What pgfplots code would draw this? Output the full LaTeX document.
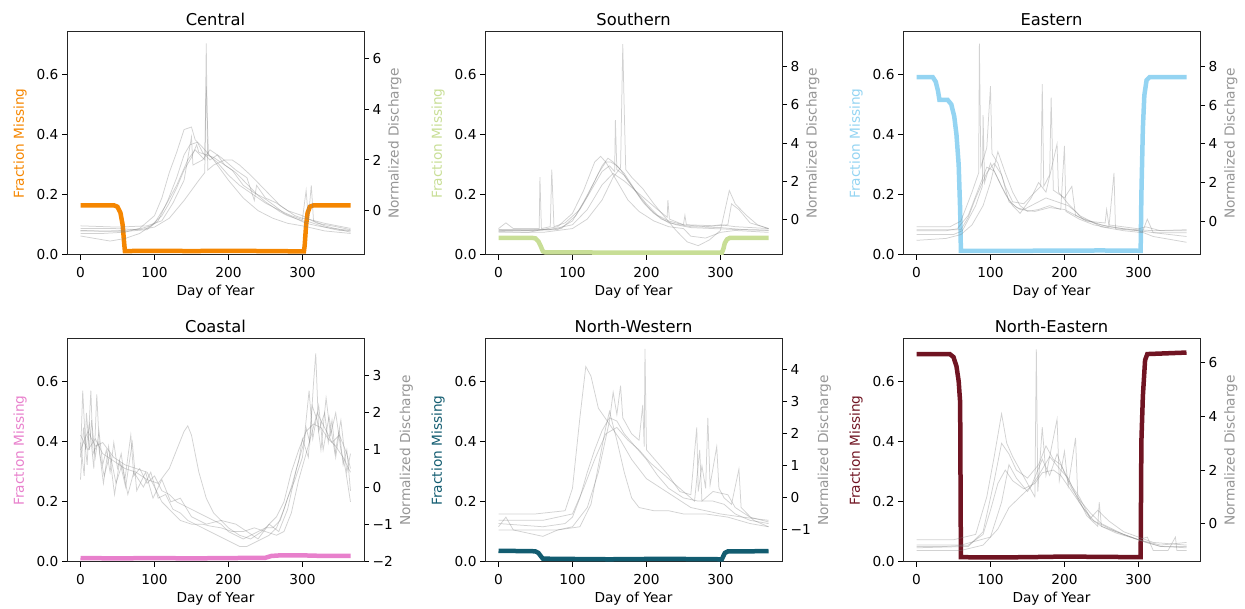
\documentclass[border=0pt]{standalone}
\usepackage{fontspec}
\setmainfont{DejaVu Sans}
\usepackage{pgfplots}
\pgfplotsset{compat=1.18}

\definecolor{cCen}{RGB}{245,134,0}
\definecolor{cSou}{RGB}{200,222,150}
\definecolor{cEas}{RGB}{148,212,242}
\definecolor{cCoa}{RGB}{232,128,204}
\definecolor{cNW}{RGB}{18,92,112}
\definecolor{cNE}{RGB}{112,20,34}
\definecolor{cDis}{RGB}{150,150,150}
\definecolor{gl}{RGB}{125,125,125}

\pgfplotsset{
  base/.style={width=297pt, height=223pt, scale only axis,
    xmin=-18.25, xmax=383.25,
    tick align=outside, major tick length=5pt,
    every tick/.style={line width=1pt, black},
    axis line style={line width=1pt, black!85},
    tick label style={font=\fontsize{13.7}{16}\selectfont},
    label style={font=\fontsize{13.7}{16}\selectfont},
    title style={font=\fontsize{16.3}{19}\selectfont, yshift=-3pt}},
  frac/.style={base, ymin=0, ymax=0.74,
    xtick={0,100,200,300}, xticklabels={0,100,200,300},
    ytick={0,0.2,0.4,0.6}, yticklabels={0.0,0.2,0.4,0.6},
    xtick pos=lower, ytick pos=left,
    xticklabel shift=4pt, ylabel shift=3pt,
    xlabel={Day of Year}, ylabel={Fraction Missing}},
  dis/.style={base, axis y line*=right, axis x line=none,
    ylabel={Normalized Discharge}, ylabel style={color=cDis}},
  miss/.style={line width=4.5pt, no marks},
  q/.style={gl, opacity=0.35, line width=0.75pt, no marks},
}

\begin{document}
\begin{tikzpicture}
\path[use as bounding box] (0,0) rectangle (1245pt,609pt);

% ---------------- Central
\begin{axis}[frac, at={(67pt,354pt)}, anchor=south west, title={Central}, ylabel style={color=cCen}]
\addplot[miss, cCen] coordinates {(0,0.165)(45,0.165)(50,0.160)(54,0.14)(57,0.10)(59,0.04)(60,0.013)(100,0.014)(150,0.013)(200,0.014)(250,0.013)(302,0.012)(303,0.03)(305,0.10)(307,0.14)(310,0.160)(315,0.165)(365,0.165)};
\end{axis}
\begin{axis}[dis, at={(67pt,354pt)}, anchor=south west, ymin=-1.75, ymax=7.05, ytick={0,2,4,6}, yticklabels={0,2,4,6}]
\addplot[q] coordinates {(0,-0.78)(20,-0.8)(40,-0.8)(60,-0.78)(80,-0.72)(95,-0.6)(110,-0.2)(120,0.3)(130,0.9)(140,1.6)(150,2.1)(157,2.6)(160,2.3)(170,2.2)(180,2.1)(190,1.9)(200,1.7)(210,1.5)(220,1.2)(230,0.9)(240,0.6)(250,0.35)(260,0.15)(270,-0.05)(280,-0.2)(290,-0.3)(300,-0.4)(310,-0.45)(320,-0.55)(330,-0.65)(340,-0.72)(350,-0.78)(365,-0.8)};
\addplot[q] coordinates {(0,-0.9)(30,-0.9)(60,-0.85)(80,-0.7)(100,-0.2)(110,0.5)(120,1.5)(130,2.3)(140,3.2)(150,3.3)(155,2.8)(165,2.5)(180,2.0)(200,1.2)(220,0.5)(240,0.0)(260,-0.3)(280,-0.5)(300,-0.6)(330,-0.8)(365,-0.9)};
\addplot[q] coordinates {(0,-0.7)(40,-0.7)(80,-0.75)(100,-0.65)(120,-0.3)(140,0.4)(160,1.2)(168,1.5)(170,6.6)(172,1.6)(180,1.8)(195,2.0)(205,2.0)(215,1.8)(230,1.4)(250,0.8)(270,0.2)(290,-0.2)(300,-0.3)(310,-0.35)(330,-0.5)(365,-0.7)};
\addplot[q] coordinates {(0,-1.0)(20,-1.1)(40,-1.2)(60,-1.1)(80,-0.9)(100,-0.5)(115,0.2)(130,1.0)(145,2.0)(155,2.4)(168,2.0)(170,4.9)(173,2.2)(185,1.9)(200,1.4)(215,1.0)(230,0.7)(250,0.3)(270,0.0)(285,-0.2)(300,-0.35)(305,0.8)(308,-0.3)(312,1.0)(315,-0.4)(330,-0.6)(365,-0.85)};
\addplot[q] coordinates {(0,-0.6)(50,-0.65)(90,-0.6)(110,-0.4)(125,0.3)(140,1.2)(150,2.9)(152,1.8)(165,2.0)(175,2.4)(190,2.1)(210,1.6)(225,1.3)(235,0.4)(238,1.0)(250,0.5)(265,0.3)(280,0.0)(300,-0.2)(320,-0.5)(340,-0.6)(365,-0.75)};
\addplot[q] coordinates {(0,-0.8)(60,-0.82)(90,-0.75)(105,-0.4)(118,0.4)(130,1.3)(140,2.2)(148,2.6)(158,2.7)(165,2.3)(175,2.0)(185,2.2)(195,1.8)(205,1.6)(220,1.0)(235,0.7)(248,0.5)(262,0.2)(275,-0.1)(290,-0.3)(305,-0.5)(320,-0.6)(340,-0.7)(365,-0.78)};
\end{axis}

% ---------------- Southern
\begin{axis}[frac, at={(485pt,354pt)}, anchor=south west, title={Southern}, ylabel style={color=cSou}]
\addplot[miss, cSou] coordinates {(0,0.057)(45,0.057)(50,0.055)(54,0.045)(57,0.03)(60,0.012)(63,0.009)(150,0.008)(250,0.008)(302,0.008)(304,0.02)(306,0.04)(309,0.052)(313,0.057)(365,0.057)};
\end{axis}
\begin{axis}[dis, at={(485pt,354pt)}, anchor=south west, ymin=-1.89, ymax=9.84, ytick={0,2,4,6,8}, yticklabels={0,2,4,6,8}]
\addplot[q] coordinates {(0,-0.6)(50,-0.6)(80,-0.55)(100,-0.1)(115,0.9)(130,2.0)(140,2.8)(148,3.2)(155,3.0)(165,2.6)(175,2.0)(190,1.2)(205,0.5)(220,0.0)(240,-0.3)(260,-0.45)(290,-0.5)(320,-0.55)(365,-0.6)};
\addplot[q] coordinates {(0,-0.5)(10,-0.2)(20,-0.5)(55,-0.5)(56,2.2)(58,-0.5)(70,-0.4)(72,2.6)(75,-0.4)(90,-0.2)(110,0.5)(125,1.5)(140,2.5)(150,2.8)(157,2.5)(158,5.2)(160,2.6)(170,2.3)(185,1.5)(200,0.8)(215,0.2)(230,-0.1)(250,-0.3)(280,-0.4)(310,-0.3)(315,0.8)(325,0.5)(340,-0.2)(365,-0.5)};
\addplot[q] coordinates {(0,-0.7)(60,-0.7)(100,-0.5)(120,0.0)(140,1.0)(155,2.2)(165,2.7)(168,9.2)(170,5.7)(172,2.6)(180,2.2)(195,1.6)(210,0.8)(225,0.1)(240,-0.6)(255,-1.2)(270,-1.4)(285,-1.1)(300,-0.6)(312,1.5)(320,0.8)(335,0.2)(350,-0.3)(365,-0.5)};
\addplot[q] coordinates {(0,-0.65)(40,-0.7)(80,-0.4)(100,0.3)(115,1.5)(130,3.0)(138,3.3)(145,3.0)(160,2.0)(175,1.0)(190,0.4)(210,-0.1)(230,-0.4)(250,-0.5)(260,-0.9)(280,-1.0)(300,-0.7)(320,-0.6)(365,-0.7)};
\addplot[q] coordinates {(0,-0.55)(70,-0.55)(100,-0.3)(120,0.5)(140,1.8)(155,2.4)(170,2.0)(185,1.5)(200,1.0)(215,0.5)(228,0.1)(229,1.0)(231,0.0)(250,-0.3)(252,0.2)(254,-0.3)(290,-0.35)(300,-0.3)(320,-0.4)(365,-0.5)};
\addplot[q] coordinates {(0,-0.58)(40,-0.6)(85,-0.5)(105,0.2)(120,1.2)(135,2.4)(145,3.0)(152,3.0)(160,2.8)(170,2.4)(180,1.8)(195,0.9)(210,0.3)(230,-0.2)(260,-0.4)(300,-0.45)(330,-0.55)(365,-0.58)};
\end{axis}

% ---------------- Eastern
\begin{axis}[frac, at={(903pt,354pt)}, anchor=south west, title={Eastern}, ylabel style={color=cEas}]
\addplot[miss, cEas] coordinates {(0,0.59)(22,0.59)(26,0.575)(29,0.545)(31,0.515)(42,0.515)(47,0.50)(51,0.46)(54,0.40)(57,0.30)(59,0.15)(60,0.014)(150,0.014)(250,0.015)(303,0.014)(304,0.2)(306,0.42)(308,0.53)(311,0.58)(315,0.59)(365,0.59)};
\end{axis}
\begin{axis}[dis, at={(903pt,354pt)}, anchor=south west, ymin=-1.76, ymax=9.81, ytick={0,2,4,6,8}, yticklabels={0,2,4,6,8}]
\addplot[q] coordinates {(0,-0.5)(40,-0.5)(55,-0.4)(70,0.3)(85,1.8)(95,2.8)(105,2.6)(115,1.8)(125,1.1)(135,0.7)(145,0.6)(160,0.9)(175,1.2)(190,1.0)(205,0.8)(215,0.5)(225,0.1)(240,-0.1)(260,-0.3)(280,-0.4)(300,-0.5)(320,-0.6)(365,-0.6)};
\addplot[q] coordinates {(0,-0.3)(45,-0.3)(60,0.0)(75,1.5)(84,2.5)(85,9.2)(87,2.8)(95,3.8)(100,7.0)(102,3.5)(110,3.0)(120,1.8)(130,1.0)(145,0.9)(160,1.5)(168,1.8)(170,7.1)(172,1.8)(180,2.4)(182,6.4)(185,1.6)(200,1.2)(210,1.8)(215,0.3)(230,0.0)(255,-0.1)(257,0.6)(260,-0.2)(280,-0.3)(300,-0.4)(310,-0.3)(330,-0.5)(365,-0.5)};
\addplot[q] coordinates {(0,-1.0)(40,-0.9)(60,-0.7)(75,-0.2)(90,0.8)(100,2.0)(110,3.6)(120,2.5)(130,1.5)(140,0.8)(150,0.5)(165,0.6)(180,0.8)(195,0.6)(200,3.9)(202,0.5)(220,0.1)(240,-0.2)(260,-0.35)(267,2.5)(269,-0.4)(300,-0.5)(320,-0.8)(365,-1.1)};
\addplot[q] coordinates {(0,-0.7)(50,-0.7)(62,-0.5)(80,0.8)(89,1.8)(90,5.5)(92,2.0)(100,3.0)(110,2.2)(120,1.4)(130,0.8)(140,0.4)(155,1.2)(165,2.0)(175,1.5)(190,4.0)(192,1.5)(205,0.9)(220,0.3)(235,0.0)(250,-0.3)(280,-0.5)(305,-0.6)(312,0.1)(320,-0.6)(365,-0.8)};
\addplot[q] coordinates {(0,-0.45)(60,-0.45)(70,0.2)(80,1.2)(95,2.5)(105,3.0)(115,2.4)(125,1.0)(140,0.6)(160,0.5)(180,0.7)(200,0.6)(220,0.2)(250,-0.2)(280,-0.4)(320,-0.5)(365,-0.45)};
\end{axis}

% ---------------- Coastal
\begin{axis}[frac, at={(67pt,47pt)}, anchor=south west, title={Coastal}, ylabel style={color=cCoa}]
\addplot[miss, cCoa] coordinates {(0,0.013)(50,0.012)(100,0.013)(150,0.012)(200,0.013)(250,0.014)(258,0.02)(270,0.022)(300,0.022)(330,0.020)(365,0.020)};
\end{axis}
\begin{axis}[dis, at={(67pt,47pt)}, anchor=south west, ymin=-2.02, ymax=3.99, ytick={-2,-1,0,1,2,3}, yticklabels={−2,−1,0,1,2,3}]
\addplot[q] coordinates {(0,1.2)(5,0.3)(8,2.0)(12,1.0)(15,1.8)(20,0.8)(25,1.5)(30,0.6)(35,1.0)(40,0.4)(45,1.2)(50,0.5)(55,0.9)(60,0.2)(68,1.4)(72,0.3)(80,0.5)(90,0.1)(100,0.3)(110,-0.1)(120,-0.2)(130,-0.4)(140,-0.5)(150,-0.6)(160,-0.7)(170,-0.8)(180,-0.9)(190,-1.0)(200,-1.2)(210,-1.3)(220,-1.4)(230,-1.3)(240,-1.2)(250,-1.1)(260,-1.1)(270,-0.9)(280,-0.3)(290,0.2)(300,0.8)(305,1.6)(310,1.2)(315,2.8)(318,3.6)(322,1.5)(330,2.0)(335,1.2)(340,1.8)(345,0.8)(350,1.5)(355,0.6)(360,1.0)(365,-0.1)};
\addplot[q] coordinates {(0,0.8)(3,2.6)(7,1.0)(12,1.7)(18,0.5)(22,2.5)(26,0.9)(32,0.3)(40,0.9)(48,0.1)(56,0.6)(64,-0.2)(72,0.4)(85,0.0)(95,0.4)(105,-0.3)(115,-0.2)(125,-0.6)(135,-0.7)(145,-0.9)(155,-1.0)(165,-1.1)(175,-1.2)(185,-1.3)(195,-1.4)(205,-1.5)(215,-1.6)(225,-1.6)(235,-1.5)(245,-1.4)(255,-1.3)(265,-1.1)(275,-0.6)(285,0.0)(295,0.7)(300,1.3)(308,0.8)(313,2.2)(320,1.8)(325,1.0)(332,2.4)(338,1.4)(345,2.0)(352,1.0)(358,0.5)(365,-0.4)};
\addplot[q] coordinates {(0,1.4)(10,1.0)(20,1.3)(30,0.9)(45,0.7)(60,0.5)(75,0.4)(90,0.2)(105,0.1)(120,0.5)(130,1.0)(140,1.5)(145,1.65)(150,1.4)(160,0.4)(170,-0.3)(180,-0.7)(190,-0.9)(200,-1.1)(215,-1.3)(230,-1.4)(245,-1.2)(255,-1.0)(265,-0.8)(275,-0.4)(285,0.4)(295,1.0)(305,1.5)(315,1.7)(325,1.6)(335,1.3)(345,1.1)(355,0.8)(365,0.4)};
\addplot[q] coordinates {(0,1.0)(10,1.5)(20,1.1)(30,1.2)(45,0.8)(60,0.6)(75,0.5)(90,0.4)(100,0.0)(110,-0.4)(120,-0.6)(135,-0.9)(150,-1.0)(165,-1.0)(175,-1.05)(190,-1.1)(205,-1.2)(220,-1.2)(235,-1.1)(250,-1.2)(265,-1.3)(275,-1.2)(285,-0.7)(295,0.2)(305,0.9)(312,1.4)(320,2.0)(330,1.6)(340,1.2)(350,1.4)(360,0.9)(365,0.5)};
\addplot[q] coordinates {(0,0.2)(4,1.6)(9,0.6)(14,2.6)(17,0.9)(24,1.2)(31,0.1)(38,1.1)(46,-0.2)(53,0.7)(61,0.0)(70,1.2)(76,-0.1)(88,0.4)(98,-0.3)(110,0.2)(122,-0.4)(135,-0.3)(150,-0.8)(170,-1.0)(190,-0.9)(210,-1.0)(225,-1.2)(240,-1.4)(255,-1.0)(268,-1.2)(280,-0.6)(292,0.5)(302,1.2)(309,2.6)(314,1.3)(322,2.2)(328,1.0)(336,1.9)(344,0.9)(352,1.8)(360,0.4)(365,0.9)};
\end{axis}

% ---------------- North-Western
\begin{axis}[frac, at={(485pt,47pt)}, anchor=south west, title={North-Western}, ylabel style={color=cNW}]
\addplot[miss, cNW] coordinates {(0,0.037)(45,0.036)(50,0.035)(54,0.03)(57,0.02)(60,0.011)(100,0.010)(150,0.009)(200,0.010)(250,0.010)(302,0.009)(304,0.02)(306,0.03)(310,0.035)(365,0.036)};
\end{axis}
\begin{axis}[dis, at={(485pt,47pt)}, anchor=south west, ymin=-2.0, ymax=4.96, ytick={-1,0,1,2,3,4}, yticklabels={−1,0,1,2,3,4}]
\addplot[q] coordinates {(0,-0.8)(30,-0.85)(60,-0.9)(90,-0.8)(100,-0.6)(110,0.0)(120,0.8)(130,1.5)(140,2.1)(150,2.5)(160,2.4)(170,2.0)(185,1.6)(200,1.2)(215,0.7)(230,0.3)(250,0.0)(270,-0.1)(290,-0.1)(305,-0.2)(320,-0.5)(340,-0.7)(365,-0.8)};
\addplot[q] coordinates {(0,-0.5)(50,-0.5)(90,-0.4)(100,0.3)(110,2.5)(118,4.1)(125,3.8)(135,2.8)(150,2.3)(165,1.8)(180,1.2)(200,0.6)(220,0.3)(240,0.0)(260,-0.3)(280,-0.4)(300,-0.5)(330,-0.6)(365,-0.7)};
\addplot[q] coordinates {(0,-0.9)(10,-0.6)(20,-1.0)(40,-1.1)(60,-1.2)(80,-1.0)(100,-0.9)(120,-0.3)(135,0.8)(150,2.4)(155,3.3)(160,2.6)(165,3.5)(168,2.5)(180,2.0)(190,1.8)(195,2.9)(197,1.6)(198,4.65)(200,1.5)(215,1.1)(230,0.7)(245,0.2)(260,0.1)(268,2.2)(270,0.2)(275,1.0)(280,0.3)(283,2.5)(286,0.4)(295,1.6)(298,0.3)(305,0.0)(315,-0.2)(325,0.9)(328,-0.3)(345,-0.7)(365,-0.9)};
\addplot[q] coordinates {(0,-1.0)(40,-1.0)(80,-1.0)(110,-0.9)(125,-0.2)(135,1.0)(145,2.2)(150,2.7)(160,1.8)(170,0.8)(180,0.0)(190,-0.3)(210,-0.4)(230,-0.4)(250,-0.5)(280,-0.5)(310,-0.6)(340,-0.8)(365,-0.9)};
\addplot[q] coordinates {(0,-0.7)(60,-0.7)(100,-0.5)(115,0.3)(130,1.2)(145,2.0)(160,2.2)(175,1.8)(190,1.5)(205,1.1)(220,0.8)(240,0.4)(255,0.1)(265,-0.1)(272,1.5)(275,-0.1)(290,0.2)(310,0.1)(320,-0.3)(340,-0.6)(365,-0.75)};
\end{axis}

% ---------------- North-Eastern
\begin{axis}[frac, at={(903pt,47pt)}, anchor=south west, title={North-Eastern}, ylabel style={color=cNE}]
\addplot[miss, cNE] coordinates {(0,0.690)(45,0.690)(50,0.680)(54,0.650)(57,0.600)(59,0.530)(60,0.016)(100,0.015)(150,0.016)(200,0.018)(250,0.017)(303,0.016)(304,0.40)(306,0.55)(309,0.67)(312,0.690)(365,0.695)};
\end{axis}
\begin{axis}[dis, at={(903pt,47pt)}, anchor=south west, ymin=-1.43, ymax=6.89, ytick={0,2,4,6}, yticklabels={0,2,4,6}]
\addplot[q] coordinates {(0,-0.85)(40,-0.85)(70,-0.8)(90,-0.4)(100,0.5)(110,1.5)(120,2.0)(130,1.6)(145,1.3)(160,1.5)(170,1.9)(185,2.0)(195,1.8)(210,1.2)(225,0.6)(240,0.1)(255,-0.1)(270,-0.3)(290,-0.5)(310,-0.7)(330,-0.85)(365,-0.85)};
\addplot[q] coordinates {(0,-0.6)(50,-0.6)(80,-0.4)(95,1.0)(105,2.5)(115,4.1)(122,3.0)(130,2.5)(140,2.0)(150,1.5)(160,1.0)(162,6.5)(164,1.2)(170,3.6)(175,1.8)(190,3.9)(193,1.6)(200,2.7)(205,1.4)(215,3.2)(218,1.0)(230,0.3)(245,-0.1)(247,0.8)(250,-0.1)(270,-0.3)(300,-0.6)(330,-0.8)(365,-0.7)};
\addplot[q] coordinates {(0,-1.0)(60,-1.0)(90,-0.8)(110,-0.2)(125,0.6)(140,1.0)(155,1.4)(170,2.4)(180,1.8)(190,2.6)(200,1.9)(210,1.3)(220,0.9)(235,0.4)(250,0.0)(265,-0.2)(280,-0.4)(300,-0.6)(312,-0.5)(320,-1.0)(340,-1.0)(350,-0.5)(352,-1.0)(365,-1.0)};
\addplot[q] coordinates {(0,-0.8)(60,-0.8)(100,-0.5)(115,0.8)(125,2.2)(135,1.7)(150,1.2)(165,1.8)(180,2.5)(195,2.0)(205,1.7)(220,0.8)(235,0.2)(245,0.5)(260,0.1)(280,-0.3)(300,-0.5)(320,-0.7)(365,-0.8)};
\addplot[q] coordinates {(0,-0.9)(70,-0.85)(90,-0.3)(105,1.6)(115,3.0)(125,2.6)(135,2.0)(150,1.7)(165,2.2)(175,2.9)(185,2.4)(195,2.2)(210,1.4)(220,1.0)(235,0.2)(250,-0.1)(270,-0.35)(300,-0.6)(330,-0.85)(365,-0.9)};
\end{axis}
\end{tikzpicture}
\end{document}
